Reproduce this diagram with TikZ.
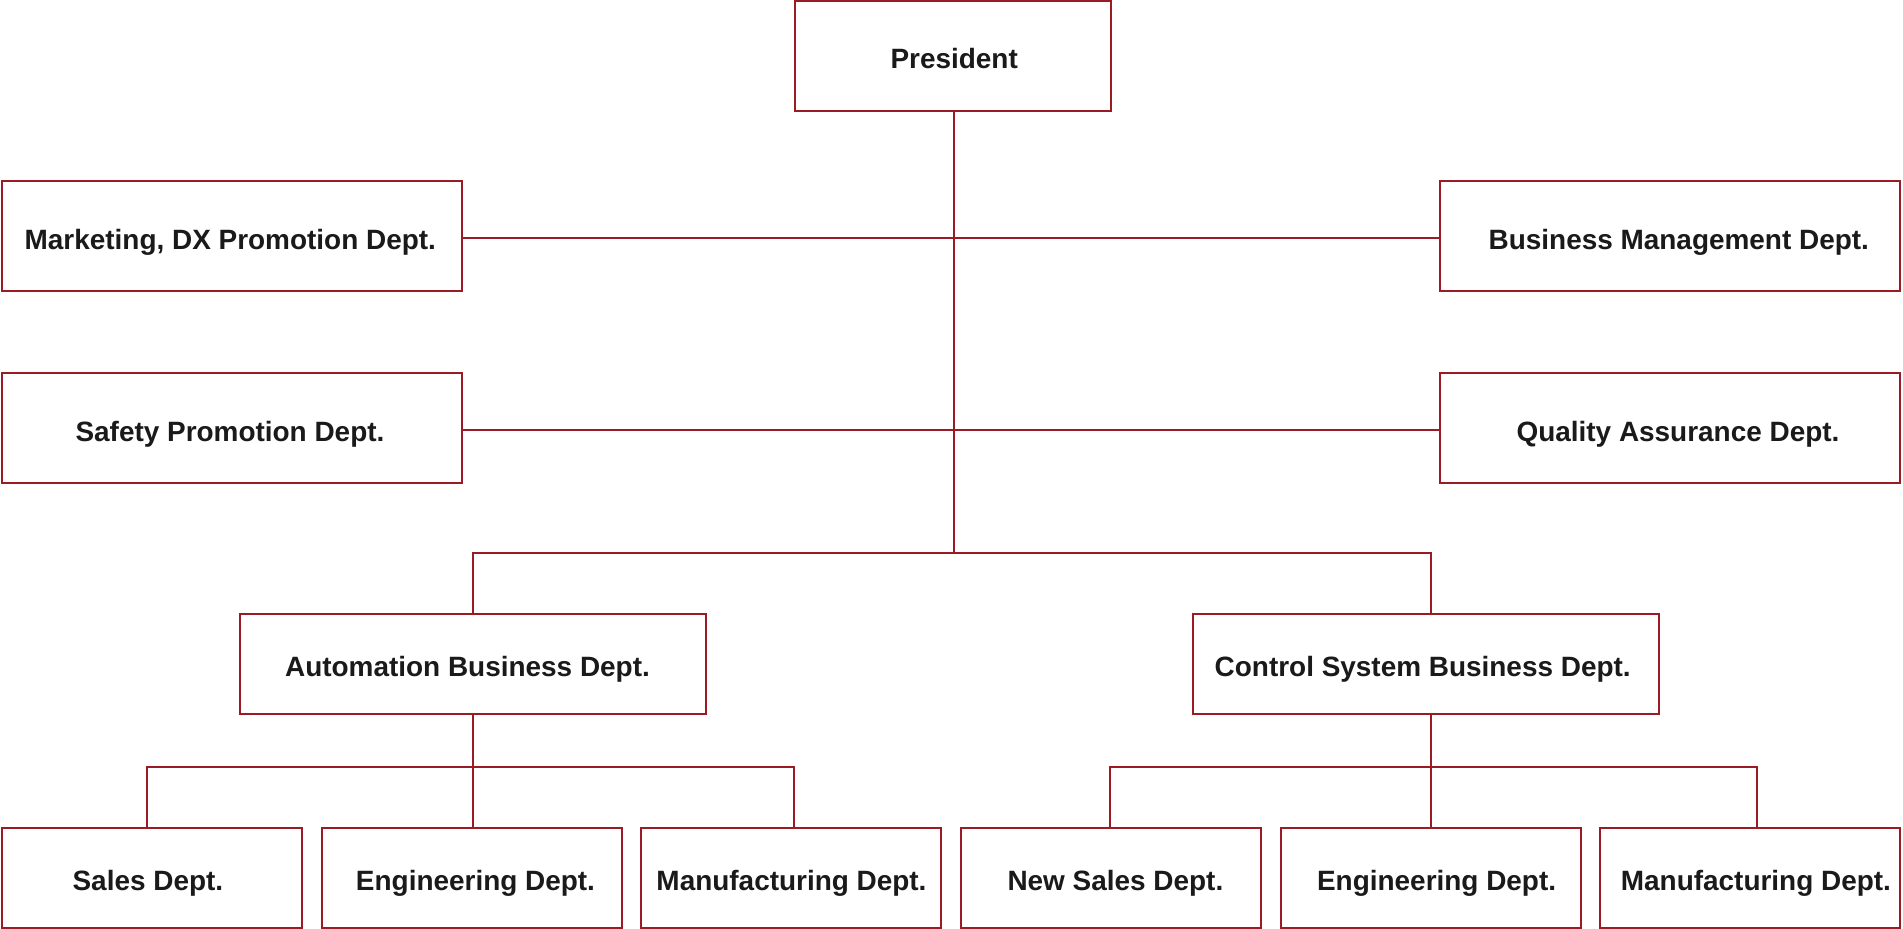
\documentclass[tikz,border=0pt]{standalone}
\usepackage{fontspec}
\setmainfont{Liberation Sans}
\definecolor{orgred}{HTML}{9A1B23}
\definecolor{txt}{HTML}{1A1A1A}
\begin{document}
\begin{tikzpicture}[x=0.02cm,y=-0.02cm,
  box/.style={draw=orgred,line width=0.04cm,fill=white,inner sep=0pt,minimum width=#1*0.02cm},
  box/.default={460},
  hbox/.style={box=#1,minimum height=110*0.02cm},
  sbox/.style={box=#1,minimum height=100*0.02cm},
  lbl/.style={anchor=base,inner sep=0pt,text=txt,font=\fontsize{15.9}{19}\selectfont\bfseries},
  conn/.style={draw=orgred,line width=0.04cm}]
\useasboundingbox (0,0) rectangle (1903,929);
% boxes
\node[hbox=316] (pres) at (953,56) {};
\node[hbox=460] (mkt) at (232,236) {};
\node[hbox=460] (saf) at (232,428) {};
\node[hbox=460] (bus) at (1670,236) {};
\node[hbox=460] (qa) at (1670,428) {};
\node[sbox=466] (auto) at (473,664) {};
\node[sbox=466] (ctrl) at (1426,664) {};
\node[sbox=300] (s1) at (152,878) {};
\node[sbox=300] (e1) at (472,878) {};
\node[sbox=300] (m1) at (791,878) {};
\node[sbox=300] (s2) at (1111,878) {};
\node[sbox=300] (e2) at (1431,878) {};
\node[sbox=300] (m2) at (1750,878) {};
% coordinates
\coordinate (spine) at (954,553);
\coordinate (busL) at (473,553);
\coordinate (busR) at (1431,553);
\coordinate (aj) at (473,767);
\coordinate (cj) at (1431,767);
\coordinate (a1) at (147,767);
\coordinate (a3) at (794,767);
\coordinate (c1) at (1110,767);
\coordinate (c3) at (1757,767);
% connectors
\draw[conn] (mkt.east |- 0,238) -- (bus.west |- 0,238);
\draw[conn] (saf.east |- 0,430) -- (qa.west |- 0,430);
\draw[conn] (pres.south -| spine) -- (spine);
\draw[conn] (busL |- auto.north) -- (busL) -- (busR) -- (busR |- ctrl.north);
\draw[conn] (auto.south -| aj) -- (aj |- e1.north);
\draw[conn] (a1 |- s1.north) -- (a1) -- (a3) -- (a3 |- m1.north);
\draw[conn] (ctrl.south -| cj) -- (cj |- e2.north);
\draw[conn] (c1 |- s2.north) -- (c1) -- (c3) -- (c3 |- m2.north);
% labels
\node[lbl] (tpres) at (954.2,69) {President};
\node[lbl] (tmkt) at (230.3,250) {Marketing, DX Promotion Dept.};
\node[lbl] (tbus) at (1678.8,250) {Business Management Dept.};
\node[lbl] (tsaf) at (230,441.7) {Safety Promotion Dept.};
\node[lbl] (tqa) at (1678,441.7) {Quality Assurance Dept.};
\node[lbl] (tauto) at (467.5,676.7) {Automation Business Dept.};
\node[lbl] (tctrl) at (1422.7,676.7) {Control System Business Dept.};
\node[lbl] (ts1) at (147.9,890) {Sales Dept.};
\node[lbl] (te1) at (475.5,890) {Engineering Dept.};
\node[lbl] (tm1) at (791.5,890) {Manufacturing Dept.};
\node[lbl] (ts2) at (1115.4,890) {New Sales Dept.};
\node[lbl] (te2) at (1436.6,890) {Engineering Dept.};
\node[lbl] (tm2) at (1755.9,890) {Manufacturing Dept.};
\end{tikzpicture}
\end{document}
